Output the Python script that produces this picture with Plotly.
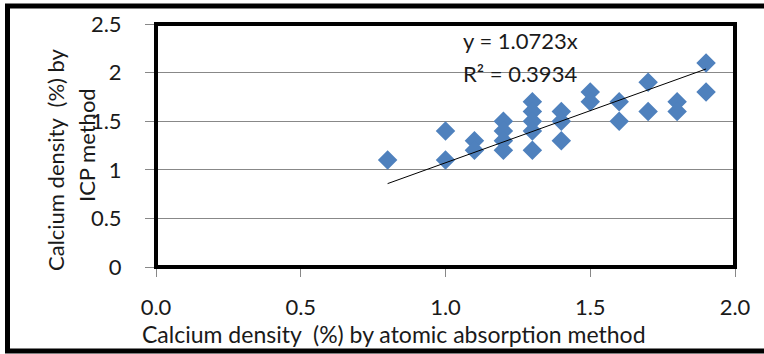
import plotly.graph_objects as go

# Data
x_atomic = [0.8, 1.0, 1.0, 1.1, 1.1, 1.2, 1.2, 1.2, 1.2, 1.3, 1.3, 1.3, 1.3, 1.3,
            1.4, 1.4, 1.4, 1.5, 1.5, 1.6, 1.6, 1.7, 1.7, 1.8, 1.8, 1.9, 1.9]
y_icp = [1.1, 1.4, 1.1, 1.3, 1.2, 1.5, 1.4, 1.3, 1.2, 1.7, 1.6, 1.5, 1.4, 1.2,
         1.6, 1.5, 1.3, 1.8, 1.7, 1.7, 1.5, 1.9, 1.6, 1.7, 1.6, 2.1, 1.8]
slope = 1.0723
r_squared = 0.3934
trend_x = [min(x_atomic), max(x_atomic)]
trend_y = [slope * v for v in trend_x]

x_ticks = [0.0, 0.5, 1.0, 1.5, 2.0]
y_ticks = [0, 0.5, 1, 1.5, 2, 2.5]

x_title = "Calcium density  (%) by atomic absorption method"
y_title_lines = ["Calcium density  (%) by", "ICP method"]

FONT = "Lato"
FS = 22
W, H = 764, 354
L, R, T, B = 156, 29, 24, 87
pw, ph = W - L - R, H - T - B

def px_x(p):
    return (p - L) / pw

def px_y(p):
    return (H - B - p) / ph

fig = go.Figure()
fig.add_trace(go.Scatter(
    x=x_atomic, y=y_icp, mode="markers",
    marker=dict(symbol="diamond", size=15, color="#4F81BD"),
    showlegend=False, hoverinfo="x+y"))
fig.add_trace(go.Scatter(
    x=trend_x, y=trend_y, mode="lines",
    line=dict(color="black", width=1), showlegend=False, hoverinfo="skip"))

fig.update_layout(
    width=W, height=H,
    margin=dict(l=L, r=R, t=T, b=B, autoexpand=False),
    paper_bgcolor="white", plot_bgcolor="white",
    font=dict(family=FONT, size=FS, color="#1a1a1a"),
    xaxis=dict(
        range=[0, 2], tickvals=x_ticks, tickformat=".1f",
        showgrid=False, zeroline=False, automargin=False,
        ticks="outside", ticklen=9, tickcolor="#888", tickwidth=1,
        ticklabelstandoff=12,
    ),
    yaxis=dict(
        range=[0, 2.5], tickvals=y_ticks,
        showgrid=True, gridcolor="#888888", gridwidth=1, zeroline=False,
        automargin=False,
        ticks="outside", ticklen=10, tickcolor="#888", tickwidth=1,
        ticklabelstandoff=19,
    ),
    shapes=[
        dict(type="rect", xref="paper", yref="paper", x0=0, y0=0, x1=1, y1=1,
             line=dict(color="black", width=4), layer="above"),
        dict(type="rect", xref="paper", yref="paper",
             x0=px_x(7.5), x1=px_x(775), y0=px_y(351), y1=px_y(6),
             line=dict(color="black", width=5)),
    ],
    annotations=[
        dict(text="y = 1.0723x", xref="paper", yref="paper",
             x=px_x(461), y=px_y(40), xanchor="left", yanchor="middle",
             showarrow=False, font=dict(size=FS)),
        dict(text="R² = 0.3934", xref="paper", yref="paper",
             x=px_x(461), y=px_y(74), xanchor="left", yanchor="middle",
             showarrow=False, font=dict(size=FS)),
        dict(text=x_title, xref="paper", yref="paper",
             x=px_x(140), y=px_y(334), xanchor="left", yanchor="middle",
             showarrow=False, font=dict(size=23)),
        dict(text=y_title_lines[0], xref="paper", yref="paper", textangle=-90,
             x=px_x(55), y=px_y(160), xanchor="center", yanchor="middle",
             showarrow=False, font=dict(size=FS)),
        dict(text=y_title_lines[1], xref="paper", yref="paper", textangle=-90,
             x=px_x(86), y=px_y(145), xanchor="center", yanchor="middle",
             showarrow=False, font=dict(size=FS)),
    ],
)

fig.write_html("out.html", config={"displayModeBar": False},
               post_script="document.body.style.margin='0';document.body.style.overflow='hidden';")
